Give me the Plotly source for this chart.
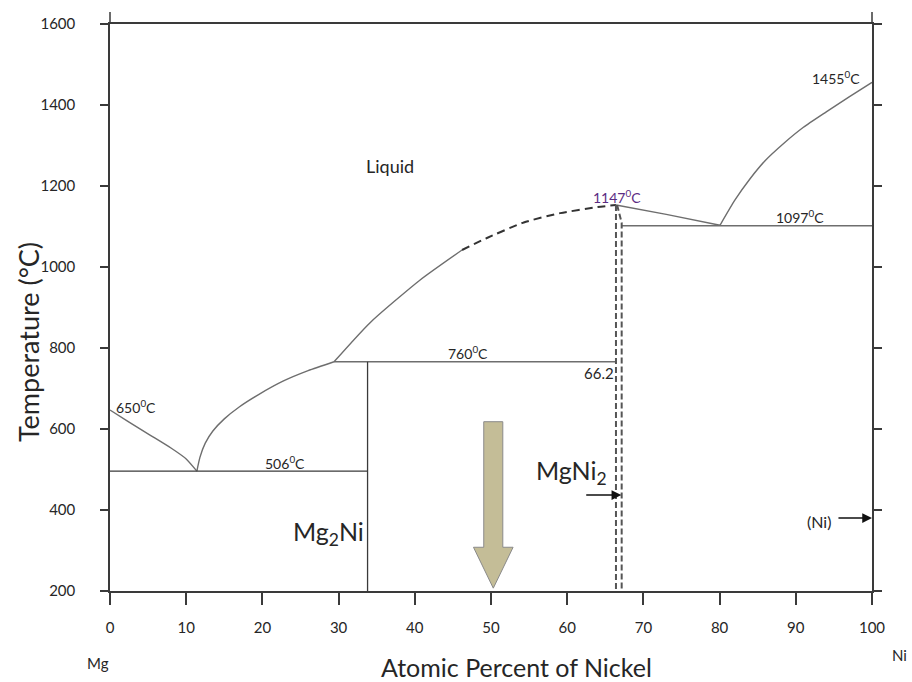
import plotly.graph_objects as go

# ---------------- data ----------------
x_ticks = [0, 10, 20, 30, 40, 50, 60, 70, 80, 90, 100]
y_ticks = [200, 400, 600, 800, 1000, 1200, 1400, 1600]

mg_liq_x = [0, 2.5, 5.25, 8.0, 10.0, 11.4]
mg_liq_T = [647, 617, 585, 553, 526, 496]

mg2ni_liq_x = [11.4, 11.8, 12.5, 13.5, 15.0, 17.0, 19.5, 22.7, 26.0, 29.4]
mg2ni_liq_T = [496, 530, 565, 595, 625, 655, 685, 718, 744, 766]

mid_liq_x = [29.4, 34.1, 40.7, 46.2]
mid_liq_T = [766, 862, 968, 1042]

dash_liq_x = [46.2, 49.4, 54.3, 59.1, 64.0, 66.4]
dash_liq_T = [1042, 1071, 1110, 1133, 1148, 1153]

mgni2_liq_x = [66.4, 73.0, 80.05]
mgni2_liq_T = [1153, 1130, 1103]

ni_liq_x = [80.05, 82.0, 84.0, 86.0, 88.4, 91.0, 94.0, 97.0, 100]
ni_liq_T = [1103, 1165, 1218, 1263, 1305, 1345, 1383, 1420, 1456]

eut1_x = [0, 33.8]
eut1_T = [496, 496]
perit_x = [29.4, 66.3]
perit_T = [766, 766]
eut2_x = [67.15, 100]
eut2_T = [1102, 1102]
mg2ni_x = [33.8, 33.8]
mg2ni_T = [200, 766]
mgni2_left_x = [66.4, 66.4]
mgni2_left_T = [1153, 200]
mgni2_right_x = [66.55, 67.15, 67.15]
mgni2_right_T = [1153, 1109, 200]

# big arrow: composition 50 at.% Ni, shaft/head extents
arrow_x = 50.3
arrow_shaft_half = 1.25
arrow_head_half = 2.6
arrow_top_T = 618
arrow_headbase_T = 308
arrow_tip_T = 207

# ---------------- figure ----------------
fig = go.Figure()
curve = dict(color="#6e6e6e", width=1.4)
dark = dict(color="#3a3a3a", width=1.3)

def add_line(x, y, line, shape="linear", smoothing=None):
    ln = dict(line, shape=shape)
    if smoothing is not None:
        ln["smoothing"] = smoothing
    fig.add_trace(go.Scatter(x=x, y=y, mode="lines", line=ln,
                             hoverinfo="skip", showlegend=False))

add_line(mg_liq_x, mg_liq_T, curve, "spline", 0.5)
add_line(mg2ni_liq_x, mg2ni_liq_T, curve, "spline", 0.6)
add_line(mid_liq_x, mid_liq_T, curve, "spline", 0.6)
add_line(dash_liq_x, dash_liq_T, dict(color="#333333", width=2, dash="8px,5px"), "spline", 0.6)
add_line(mgni2_liq_x, mgni2_liq_T, curve, "spline", 0.5)
add_line(ni_liq_x, ni_liq_T, curve, "spline", 0.5)
add_line(eut1_x, eut1_T, dark)
add_line(perit_x, perit_T, curve)
add_line(eut2_x, eut2_T, curve)
add_line(mg2ni_x, mg2ni_T, dark)
add_line(mgni2_left_x, mgni2_left_T, dict(color="#555555", width=2, dash="6px,3px"))
add_line(mgni2_right_x, mgni2_right_T, dict(color="#555555", width=2, dash="6px,3px"))

# big arrow polygon
ax_poly = [arrow_x - arrow_shaft_half, arrow_x + arrow_shaft_half, arrow_x + arrow_shaft_half,
           arrow_x + arrow_head_half, arrow_x, arrow_x - arrow_head_half,
           arrow_x - arrow_shaft_half, arrow_x - arrow_shaft_half]
ay_poly = [arrow_top_T, arrow_top_T, arrow_headbase_T, arrow_headbase_T, arrow_tip_T,
           arrow_headbase_T, arrow_headbase_T, arrow_top_T]
fig.add_trace(go.Scatter(x=ax_poly, y=ay_poly, mode="lines", fill="toself",
                         fillcolor="#c4bd97", line=dict(color="#8a8a8a", width=1),
                         hoverinfo="skip", showlegend=False))

FONT = "Lato"
txt = "#262626"
def label(x, y, text, size=14, color=txt):
    fig.add_annotation(x=x, y=y, text=text, showarrow=False,
                       font=dict(family=FONT, size=size, color=color))

label(36.7, 1249, "Liquid", 18)
label(95.3, 1469, "1455<sup>0</sup>C", 14)
label(66.5, 1173, "1147<sup>0</sup>C", 14, "#5b2c83")
label(90.5, 1124, "1097<sup>0</sup>C", 14)
label(47.0, 788, "760<sup>0</sup>C", 14)
label(64.2, 738, "66.2", 15)
label(3.35, 655, "650<sup>0</sup>C", 14)
label(23.0, 517, "506<sup>0</sup>C", 14)
label(28.7, 343, "Mg<sub>2</sub>Ni", 25)
label(60.5, 495, "MgNi<sub>2</sub>", 25)
label(93.0, 371, "(Ni)", 16)

# small pointer arrows
fig.add_annotation(x=67.1, y=437, ax=62.3, ay=437, axref="x", ayref="y",
                   showarrow=True, arrowhead=2, arrowsize=1.3, arrowwidth=1.5,
                   arrowcolor="#111111", text="")
fig.add_annotation(x=100, y=380, ax=95.4, ay=380, axref="x", ayref="y",
                   showarrow=True, arrowhead=2, arrowsize=1.3, arrowwidth=1.5,
                   arrowcolor="#111111", text="")

# element names under the axis ends
fig.add_annotation(x=-0.0157, y=-0.127, xref="paper", yref="paper", text="Mg", showarrow=False,
                   xanchor="center", yanchor="middle",
                   font=dict(family=FONT, size=15, color=txt))
fig.add_annotation(x=1.0367, y=-0.113, xref="paper", yref="paper", text="Ni", showarrow=False,
                   xanchor="center", yanchor="middle",
                   font=dict(family=FONT, size=15, color=txt))

# axis titles (placed off-centre as in the reference)
fig.add_annotation(x=0.534, y=-0.134, xref="paper", yref="paper", text="Atomic Percent of Nickel",
                   showarrow=False, xanchor="center", yanchor="middle",
                   font=dict(family=FONT, size=25, color=txt))
fig.add_annotation(x=-0.1076, y=0.439, xref="paper", yref="paper", text="Temperature (°C)",
                   showarrow=False, xanchor="center", yanchor="middle", textangle=-90,
                   font=dict(family=FONT, size=27, color=txt))

# little frame extensions above the top line at x=0 and x=100
for xp in (0, 1):
    fig.add_shape(type="line", xref="paper", yref="paper", x0=xp, x1=xp, y0=1, y1=1 + 12 / 567,
                  line=dict(color="#3a3a3a", width=1.5))

axcol = "#3a3a3a"
fig.update_layout(
    width=912, height=682,
    margin=dict(l=110, r=40, t=24, b=91, autoexpand=False),
    paper_bgcolor="white", plot_bgcolor="white",
    font=dict(family=FONT, color=txt),
    xaxis=dict(range=[0, 100], tickvals=x_ticks, showgrid=False, zeroline=False,
               automargin=False,
               showline=True, linecolor=axcol, linewidth=1.5, mirror=True,
               ticks="outside", ticklen=12, tickcolor=axcol, tickwidth=1.5,
               tickfont=dict(family=FONT, size=15, color=txt), ticklabelstandoff=10),
    yaxis=dict(range=[200, 1600], tickvals=y_ticks, showgrid=False, zeroline=False,
               automargin=False,
               showline=True, linecolor=axcol, linewidth=1.5, mirror="ticks",
               ticks="outside", ticklen=8, tickcolor=axcol, tickwidth=1.5,
               tickfont=dict(family=FONT, size=15, color=txt), ticklabelstandoff=22),
)

fig.write_html("out.html")
